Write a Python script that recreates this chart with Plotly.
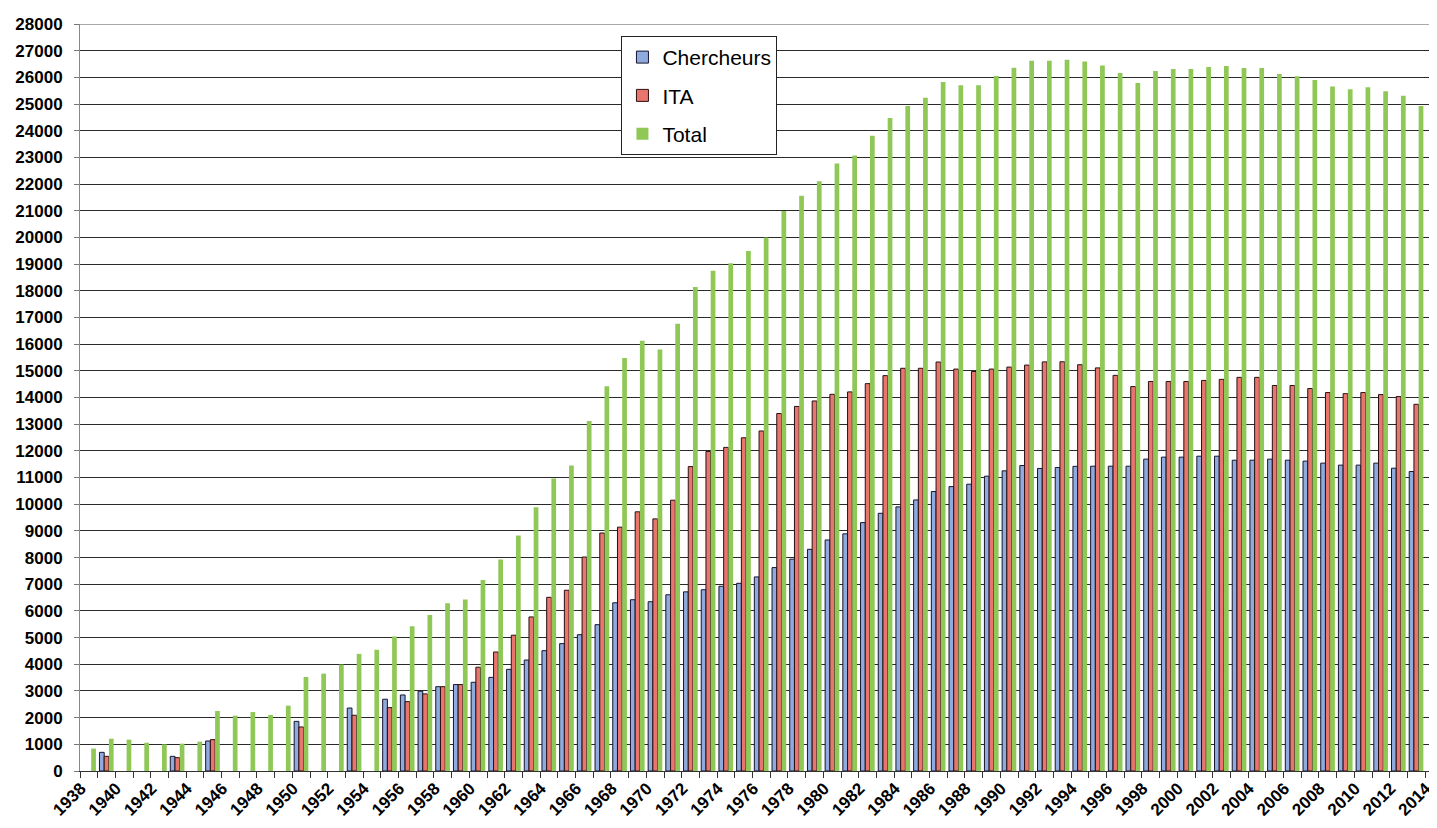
import plotly.graph_objects as go

years = list(range(1938, 2015))

chercheurs = [
    None, 700, None, None, None, 550, None, 1125, None, None,   # 1938-1947
    None, None, 1860, None, None, 2360, None, 2690, 2850, 2990,  # 1948-1957
    3160, 3240, 3325, 3510, 3810, 4160, 4510, 4775, 5110, 5485,  # 1958-1967
    6305, 6420, 6345, 6605, 6715, 6795, 6925, 7035, 7275, 7625,  # 1968-1977
    7940, 8310, 8660, 8890, 9310, 9660, 9900, 10160, 10475, 10660,  # 1978-1987
    10750, 11050, 11250, 11450, 11340, 11375, 11420, 11425, 11425, 11425,  # 1988-1997
    11690, 11765, 11765, 11800, 11800, 11650, 11650, 11690, 11650, 11615,  # 1998-2007
    11540, 11465, 11465, 11540, 11350, 11225, None,  # 2008-2014
]

ita = [
    None, 550, None, None, None, 500, None, 1175, None, None,
    None, None, 1650, None, None, 2090, None, 2375, 2600, 2890,
    3160, 3240, 3890, 4460, 5090, 5775, 6510, 6775, 8020, 8920,
    9140, 9715, 9450, 10150, 11410, 11975, 12130, 12490, 12745, 13400,
    13665, 13870, 14120, 14210, 14520, 14820, 15095, 15095, 15330, 15065,
    14975, 15065, 15140, 15215, 15335, 15340, 15230, 15110, 14830, 14410,
    14600, 14600, 14600, 14640, 14680, 14755, 14755, 14450, 14450, 14335,
    14185, 14145, 14185, 14110, 14035, 13745, None,
]

total = [
    840, 1210, 1175, 1060, 1000, 1025, 1100, 2250, 2075, 2210,
    2100, 2450, 3525, 3650, 3990, 4390, 4545, 5045, 5425, 5850,
    6285, 6430, 7155, 7930, 8830, 9890, 10965, 11450, 13120, 14420,
    15485, 16130, 15795, 16760, 18140, 18750, 19030, 19495, 19995, 20995,
    21565, 22110, 22775, 23075, 23810, 24475, 24925, 25240, 25825, 25700,
    25700, 26050, 26360, 26625, 26625, 26660, 26590, 26440, 26160, 25790,
    26240, 26310, 26310, 26390, 26425, 26350, 26350, 26125, 26040, 25900,
    25660, 25550, 25625, 25475, 25310, 24925, None,
]

x_ticks = list(range(1938, 2015, 2))
x_ticktext = [str(v) for v in x_ticks]
y_ticks = list(range(0, 28001, 1000))
y_ticktext = [str(v) for v in y_ticks]

FONT = "Liberation Sans, Arial, sans-serif"

fig = go.Figure()
fig.add_trace(go.Bar(
    x=years, y=chercheurs, name="Chercheurs", legendgroup="a",
    marker=dict(color="#8FAADC", line=dict(color="#151530", width=1)),
))
fig.add_trace(go.Bar(
    x=years, y=ita, name="ITA", legendgroup="b",
    marker=dict(color="#E8766F", line=dict(color="#2a1010", width=1)),
))
fig.add_trace(go.Bar(
    x=years, y=total, name="Total", legendgroup="c",
    marker=dict(color="#8FC856", line=dict(width=0)),
))

fig.update_layout(
    width=1429, height=820,
    margin=dict(l=72, r=0, t=16, b=57, autoexpand=False),
    paper_bgcolor="white", plot_bgcolor="white",
    barmode="group", bargap=0.2, bargroupgap=0,
    font=dict(family=FONT, color="#000000"),
    showlegend=True,
    legend=dict(
        x=0.399, y=0.984, xanchor="left", yanchor="top",
        bgcolor="white", bordercolor="#222222", borderwidth=1,
        font=dict(size=21, family=FONT, color="#000000"),
        tracegroupgap=8,
    ),
    xaxis=dict(
        type="linear", range=[1937.5, 2014.17],
        tickmode="array", tickvals=x_ticks, ticktext=x_ticktext,
        tickangle=-45, ticks="", ticklabeloverflow="allow", ticklabelshift=-8,
        tickfont=dict(size=17, family=FONT, color="#000000", weight="bold"),
        showgrid=False, zeroline=False,
        showline=True, linecolor="#333333", linewidth=1,
        minor=dict(tickmode="linear", tick0=0.5, dtick=1, ticks="outside",
                   ticklen=6, tickcolor="#333333", tickwidth=1, showgrid=False),
        automargin=False,
    ),
    yaxis=dict(
        range=[0, 28000], tickmode="array", tickvals=y_ticks, ticktext=y_ticktext,
        ticks="outside", ticklen=5, tickcolor="#777777",
        tickfont=dict(size=17, family=FONT, color="#000000", weight="bold"),
        showgrid=True, gridcolor="#2a2a2a", gridwidth=1,
        zeroline=False, showline=True, linecolor="#888888", linewidth=1,
        ticklabelstandoff=8,
        automargin=False,
    ),
    shapes=[dict(type="line", xref="paper", yref="y", x0=0, x1=1, y0=28000, y1=28000,
                 line=dict(color="#AAAAAA", width=2), layer="above")],
)

fig.write_html("out.html")
